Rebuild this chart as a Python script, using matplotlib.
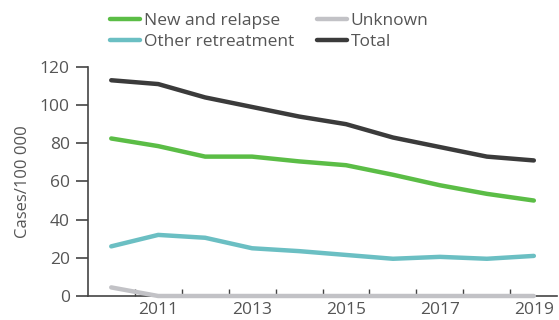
import numpy as np
import matplotlib.pyplot as plt

years = [2010, 2011, 2012, 2013, 2014, 2015, 2016, 2017, 2018, 2019]
new_relapse = [82.5, 78.5, 73, 73, 70.5, 68.5, 63.5, 58, 53.5, 50]
other_retreat = [26, 32, 30.5, 25, 23.5, 21.5, 19.5, 20.5, 19.5, 21]
unknown = [4.5, 0, 0, 0, 0, 0, 0, 0, 0, 0]
total = [113, 111, 104, 99, 94, 90, 83, 78, 73, 71]

year_labels = [2011, 2013, 2015, 2017, 2019]
y_ticks = [0, 20, 40, 60, 80, 100, 120]

plt.rcParams['font.family'] = ['Open Sans', 'DejaVu Sans']
text_col = '#555555'
axis_col = '#444444'


def main():
    fig = plt.figure(figsize=(5.59, 3.2), dpi=100)
    ax = fig.add_axes([0.157, 0.075, 0.84, 0.716])

    series = [
        ('New and relapse', new_relapse, '#5bbd46'),
        ('Unknown', unknown, '#c2c2c6'),
        ('Other retreatment', other_retreat, '#6bbfc3'),
        ('Total', total, '#3b3b3b'),
    ]
    handles = {}
    for name, vals, col in series:
        h, = ax.plot(years, vals, color=col, lw=3.2, solid_capstyle='round',
                     solid_joinstyle='round', clip_on=False, zorder=3)
        handles[name] = h

    ax.set_xlim(2009.5, 2019.5)
    ax.set_ylim(0, 120)

    # minor ticks at the year boundaries, labels on odd years
    ax.set_xticks(year_labels)
    ax.set_xticklabels([str(y) for y in year_labels])
    ax.tick_params(axis='x', which='major', length=0, pad=4,
                   labelsize=12.5, labelcolor=text_col)
    ax.set_xticks(np.arange(2010.5, 2019.5, 1.0), minor=True)
    ax.tick_params(axis='x', which='minor', direction='in', length=5,
                   width=1, color=axis_col)

    ax.set_yticks(y_ticks)
    ax.tick_params(axis='y', direction='out', length=9, width=1.2,
                   color=axis_col, labelsize=12.5, labelcolor=text_col, pad=4)

    for s in ['top', 'right']:
        ax.spines[s].set_visible(False)
    for s in ['left', 'bottom']:
        ax.spines[s].set_color(axis_col)
        ax.spines[s].set_linewidth(1.2)

    ax.set_ylabel('Cases/100 000', fontsize=12, color=text_col, labelpad=6)

    order = ['New and relapse', 'Other retreatment', 'Unknown', 'Total']
    fig.legend([handles[n] for n in order], order, ncol=2, frameon=False,
               loc='upper left', bbox_to_anchor=(0.175, 0.997),
               fontsize=12.5, labelcolor=text_col, handlelength=1.75,
               handletextpad=0.2, columnspacing=1.3, labelspacing=0.25,
               borderaxespad=0.3)

    fig.savefig('out.png', dpi=100)


if __name__ == "__main__":
    main()
